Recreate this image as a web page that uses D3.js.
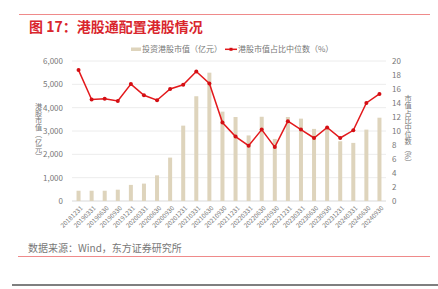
<!DOCTYPE html>
<html>
<head>
<meta charset="utf-8">
<script src="https://cdn.jsdelivr.net/npm/d3@7"></script>
<style>
body { margin: 0; background: #fff; }
text { font-family: "Noto Sans CJK SC", "Noto Sans", sans-serif; }
</style>
</head>
<body>
<div id="chart"></div>
<script>
var w = 438;
var h = 289;

var dates = ["20181231","20190331","20190630","20190930","20191231","20200331","20200630","20200930",
  "20201231","20210331","20210630","20210930","20211231","20220331","20220630","20220930",
  "20221231","20230331","20230630","20230930","20231231","20240331","20240630","20240930"];
var mktValue = [440, 440, 440, 485, 690, 745, 1100, 1860, 3230, 4490, 5500, 3830,
  3600, 2810, 3610, 2660, 3600, 3530, 3090, 3150, 2560, 2490, 3060, 3570];
var medianPct = [18.7, 14.5, 14.6, 14.3, 16.7, 15.1, 14.4, 16.0, 16.6, 18.5, 16.8, 11.2,
  9.2, 7.9, 10.2, 7.7, 11.4, 10.2, 9.0, 10.5, 9.0, 10.1, 14.0, 15.3];
var leftTicks = [0, 1000, 2000, 3000, 4000, 5000, 6000];
var rightTicks = [0, 2, 4, 6, 8, 10, 12, 14, 16, 18, 20];

var svg = d3.select("#chart").append("svg").attr("width", w).attr("height", h);

var pL = 72, pR = 386, pT = 61, pB = 201;

var x = d3.scaleBand().domain(dates).range([pL, pR]);
var yL = d3.scaleLinear().domain([0, 6000]).range([pB, pT]);
var yR = d3.scaleLinear().domain([0, 20]).range([pB, pT]);

// header
svg.append("line").attr("x1", 19).attr("x2", 430).attr("y1", 14.5).attr("y2", 14.5)
  .attr("stroke", "#ef8a8a").attr("stroke-width", 1);
svg.append("text").text("图 17：港股通配置港股情况")
  .attr("x", 29).attr("y", 32).attr("font-size", 14).attr("font-weight", "bold")
  .attr("fill", "#d9262d");

// grid
svg.append("g").selectAll("line").data(leftTicks).enter().append("line")
  .attr("x1", pL).attr("x2", pR)
  .attr("y1", function(d) { return yL(d); }).attr("y2", function(d) { return yL(d); })
  .attr("stroke", function(d) { return d == 0 ? "#d9d9d9" : "#ececec"; })
  .attr("stroke-width", 1);

// left axis
var axL = svg.append("g").attr("transform", "translate(" + pL + ",0)")
  .call(d3.axisLeft(yL).tickValues(leftTicks).tickSize(0).tickPadding(9).tickFormat(d3.format(",")));
axL.select(".domain").remove();
axL.selectAll("text").attr("font-size", 8).attr("fill", "#777").style("font-family", "'Noto Sans CJK SC', sans-serif");

// right axis
var axR = svg.append("g").attr("transform", "translate(" + pR + ",0)")
  .call(d3.axisRight(yR).tickValues(rightTicks).tickSize(0).tickPadding(6));
axR.select(".domain").remove();
axR.selectAll("text").attr("font-size", 8).attr("fill", "#777").style("font-family", "'Noto Sans CJK SC', sans-serif");

// bottom axis labels
var axB = svg.append("g").attr("transform", "translate(0," + pB + ")")
  .call(d3.axisBottom(x).tickSize(0).tickPadding(0));
axB.select(".domain").remove();
axB.selectAll("text")
  .attr("font-size", 6.3).attr("fill", "#777")
  .style("font-family", "'Noto Sans CJK SC', sans-serif")
  .attr("text-anchor", "end")
  .attr("y", 0).attr("dy", "0.35em")
  .attr("transform", "translate(3,6) rotate(-45)");

// axis titles (vertical)
svg.append("text").text("港股市值（亿元）")
  .attr("x", 38.5).attr("y", 131).attr("font-size", 7.2).attr("fill", "#777")
  .attr("text-anchor", "middle").style("writing-mode", "vertical-rl");
svg.append("text").text("市值占比中位数（%）")
  .attr("x", 408).attr("y", 130.5).attr("font-size", 7.2).attr("fill", "#777")
  .attr("text-anchor", "middle").style("writing-mode", "vertical-rl");

// bars
var bw = 4;
svg.append("g").selectAll("rect").data(mktValue).enter().append("rect")
  .attr("x", function(d, i) { return x(dates[i]) + x.bandwidth() / 2 - bw / 2; })
  .attr("y", function(d) { return yL(d); })
  .attr("width", bw)
  .attr("height", function(d) { return pB - yL(d); })
  .attr("fill", "#ded4bc");

// line
var line = d3.line()
  .x(function(d, i) { return x(dates[i]) + x.bandwidth() / 2; })
  .y(function(d) { return yR(d); });
svg.append("path").datum(medianPct).attr("d", line)
  .attr("fill", "none").attr("stroke", "#e3191c").attr("stroke-width", 1.5);
svg.append("g").selectAll("circle").data(medianPct).enter().append("circle")
  .attr("cx", function(d, i) { return x(dates[i]) + x.bandwidth() / 2; })
  .attr("cy", function(d) { return yR(d); })
  .attr("r", 2).attr("fill", "#d40f14");

// legend
svg.append("rect").attr("x", 131).attr("y", 47.5).attr("width", 10).attr("height", 3.5).attr("fill", "#ded4bc");
svg.append("text").text("投资港股市值（亿元）").attr("x", 142).attr("y", 52.3)
  .attr("font-size", 8).attr("fill", "#777");
svg.append("line").attr("x1", 225).attr("x2", 237).attr("y1", 49.3).attr("y2", 49.3)
  .attr("stroke", "#e3191c").attr("stroke-width", 1.5);
svg.append("rect").attr("x", 229.5).attr("y", 47.8).attr("width", 3).attr("height", 3).attr("fill", "#d40f14");
svg.append("text").text("港股市值占比中位数（%）").attr("x", 238).attr("y", 52.3)
  .attr("font-size", 8).attr("fill", "#777");

// source and footer
svg.append("text").text("数据来源：Wind，东方证券研究所")
  .attr("x", 28).attr("y", 252).attr("font-size", 10).attr("fill", "#777");
svg.append("line").attr("x1", 18).attr("x2", 430).attr("y1", 256.5).attr("y2", 256.5)
  .attr("stroke", "#ef8a8a").attr("stroke-width", 1);
svg.append("line").attr("x1", 12).attr("x2", 438).attr("y1", 285).attr("y2", 285)
  .attr("stroke", "#555").attr("stroke-width", 1.5);
</script>
</body>
</html>
